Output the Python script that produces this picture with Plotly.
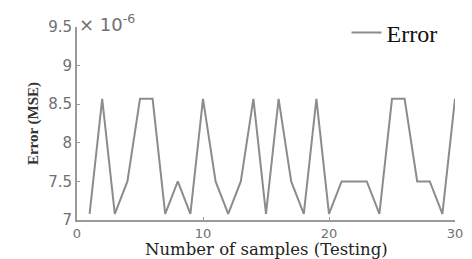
import plotly.graph_objects as go

samples = list(range(1, 31))
error_e6 = [7.08, 8.57, 7.08, 7.5, 8.57, 8.57, 7.08, 7.5, 7.08, 8.57,
            7.5, 7.08, 7.5, 8.57, 7.08, 8.57, 7.5, 7.08, 8.57, 7.08,
            7.5, 7.5, 7.5, 7.08, 8.57, 8.57, 7.5, 7.5, 7.08, 8.57]
y_ticks = [7, 7.5, 8, 8.5, 9, 9.5]
y_ticktext = ["7", "7.5", "8", "8.5", "9", "9.5"]
x_ticks = [0, 10, 20, 30]
x_title = "Number of samples (Testing)"
y_title = "Error (MSE)"

grey = "#707070"
serif = "Liberation Serif"

fig = go.Figure()
fig.add_trace(go.Scatter(x=samples, y=error_e6, mode="lines", name="Error",
                         line=dict(color="#8c8c8c", width=2)))

# page body has an 8px default margin, so the figure is 8px smaller
fig.update_layout(
    width=464, height=251,
    margin=dict(l=69, r=17, t=19, b=39, autoexpand=False),
    paper_bgcolor="white", plot_bgcolor="white",
    showlegend=True,
    legend=dict(x=0.713, y=0.969, xanchor="left", yanchor="middle",
                bgcolor="rgba(0,0,0,0)", itemwidth=30,
                font=dict(family=serif, size=24, color="#111")),
    xaxis=dict(range=[0, 30], tickvals=x_ticks, showgrid=False, zeroline=False,
               automargin=False,
               showline=True, linecolor="#9a9a9a", linewidth=2,
               ticks="inside", ticklen=3, tickcolor="#9a9a9a",
               tickfont=dict(family="DejaVu Sans", size=13, color=grey)),
    yaxis=dict(range=[7, 9.5], tickvals=y_ticks, ticktext=y_ticktext,
               showgrid=False, zeroline=False, automargin=False,
               showline=True, linecolor="#9a9a9a", linewidth=2,
               ticks="inside", ticklen=3, tickcolor="#9a9a9a",
               tickfont=dict(family="DejaVu Sans", size=15, color=grey),
               title=dict(text="<b>" + y_title + "</b>", standoff=6,
                          font=dict(family=serif, size=15, color="#333"))),
)
fig.add_annotation(xref="paper", yref="paper", x=0.5, y=0, xanchor="center",
                   yanchor="middle", yshift=-29, showarrow=False,
                   text=x_title,
                   font=dict(family="DejaVu Serif", size=16.5, color="#222"))
fig.add_annotation(xref="paper", yref="paper", x=0, y=1, xanchor="left",
                   yanchor="bottom", xshift=0, yshift=-10, showarrow=False,
                   text="× 10<sup>-6</sup>",
                   font=dict(family="DejaVu Sans", size=18, color=grey))
fig.write_html("out.html")
